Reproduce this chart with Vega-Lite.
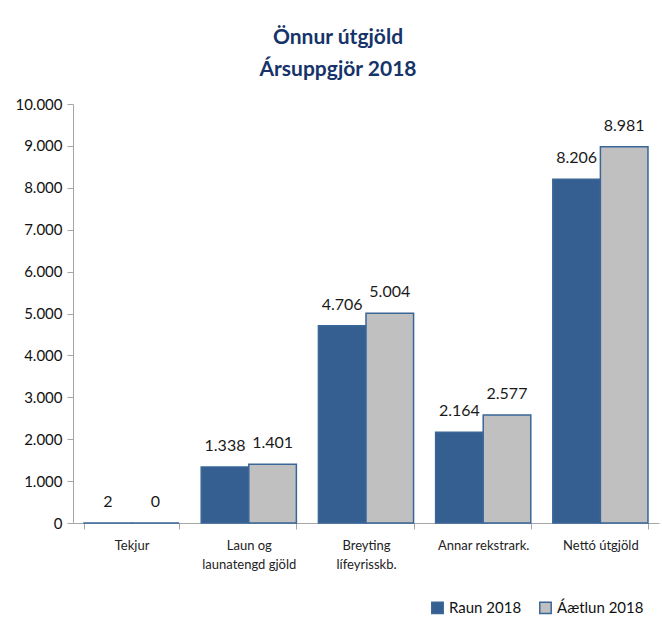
{
  "$schema": "https://vega.github.io/schema/vega-lite/v6.json",
  "autosize": {"type": "none"},
  "width": 586,
  "height": 419,
  "padding": {"left": 73, "top": 104, "right": 3, "bottom": 100},
  "background": "white",
  "config": {
    "locale": {"number": {"decimal": ",", "thousands": ".", "grouping": [3], "currency": ["", " kr"]}},
    "view": {"stroke": null},
    "font": "Lato"
  },
  "title": {
    "text": ["Önnur útgjöld", "Ársuppgjör 2018"],
    "font": "Lato",
    "fontSize": 21,
    "fontWeight": "bold",
    "color": "#16346A",
    "anchor": "middle",
    "dx": -28,
    "lineHeight": 32,
    "offset": 17
  },
  "data": {
    "values": [
      {"kategoria": "Tekjur", "röð": "Raun 2018", "upphæð": 2},
      {"kategoria": "Tekjur", "röð": "Áætlun 2018", "upphæð": 0},
      {"kategoria": "Laun og launatengd gjöld", "röð": "Raun 2018", "upphæð": 1338},
      {"kategoria": "Laun og launatengd gjöld", "röð": "Áætlun 2018", "upphæð": 1401},
      {"kategoria": "Breyting lífeyrisskb.", "röð": "Raun 2018", "upphæð": 4706},
      {"kategoria": "Breyting lífeyrisskb.", "röð": "Áætlun 2018", "upphæð": 5004},
      {"kategoria": "Annar rekstrark.", "röð": "Raun 2018", "upphæð": 2164},
      {"kategoria": "Annar rekstrark.", "röð": "Áætlun 2018", "upphæð": 2577},
      {"kategoria": "Nettó útgjöld", "röð": "Raun 2018", "upphæð": 8206},
      {"kategoria": "Nettó útgjöld", "röð": "Áætlun 2018", "upphæð": 8981}
    ]
  },
  "encoding": {
    "x": {
      "field": "kategoria",
      "type": "nominal",
      "sort": null,
      "scale": {"paddingInner": 0.188, "paddingOuter": 0.094},
      "axis": {
        "title": null,
        "labelAngle": 0,
        "labelFont": "Lato",
        "labelFontSize": 13,
        "labelColor": "#222222",
        "labelPadding": 10,
        "labelLineHeight": 19,
        "labelExpr": "datum.label == 'Laun og launatengd gjöld' ? ['Laun og', 'launatengd gjöld'] : datum.label == 'Breyting lífeyrisskb.' ? ['Breyting', 'lífeyrisskb.'] : datum.label",
        "tickBand": "extent",
        "tickSize": 6,
        "tickColor": "#A6A6A6",
        "domainColor": "#A6A6A6",
        "labelBaseline": "top"
      }
    },
    "xOffset": {"field": "röð", "type": "nominal", "sort": ["Raun 2018", "Áætlun 2018"], "scale": {"paddingInner": 0, "paddingOuter": 0}},
    "y": {
      "field": "upphæð",
      "type": "quantitative",
      "scale": {"domain": [0, 10000]},
      "axis": {
        "title": null,
        "tickCount": 10,
        "format": ",d",
        "grid": false,
        "labelFont": "Lato",
        "labelFontSize": 15,
        "labelColor": "#111111",
        "labelPadding": 5,
        "tickSize": 6,
        "tickColor": "#A6A6A6",
        "domainColor": "#A6A6A6"
      }
    }
  },
  "layer": [
    {
      "mark": {"type": "bar", "stroke": "#3A6698", "strokeWidth": 1.5},
      "encoding": {
        "color": {
          "field": "röð",
          "type": "nominal",
          "sort": ["Raun 2018", "Áætlun 2018"],
          "scale": {"domain": ["Raun 2018", "Áætlun 2018"], "range": ["#365F91", "#C0C0C0"]},
          "legend": {
            "title": null,
            "orient": "none",
            "direction": "horizontal",
            "legendX": 357,
            "legendY": 496,
            "symbolType": "square",
            "symbolSize": 130,
            "symbolStrokeColor": "#3A6698",
            "symbolStrokeWidth": 1.5,
            "labelFont": "Lato",
            "labelFontSize": 15,
            "labelColor": "#111111",
            "columnPadding": 14,
            "labelOffset": 4
          }
        }
      }
    },
    {
      "mark": {"type": "text", "dy": -13, "fontSize": 16, "font": "Lato", "color": "#1A1A1A", "baseline": "bottom"},
      "encoding": {
        "text": {"field": "upphæð", "type": "quantitative", "format": ",d"}
      }
    }
  ]
}
